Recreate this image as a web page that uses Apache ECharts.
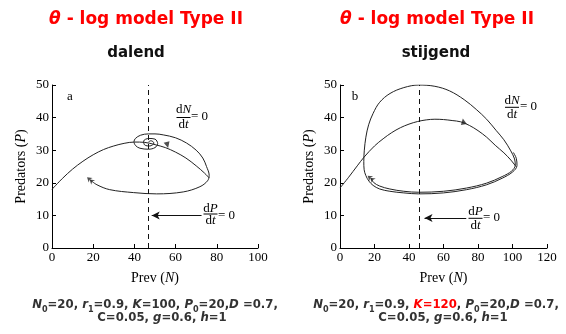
<!DOCTYPE html>
<html><head><meta charset="utf-8">
<script src="https://cdn.jsdelivr.net/npm/echarts@6/dist/echarts.min.js"></script>
<style>html,body{margin:0;padding:0;background:#fff}#c{width:566px;height:334px}</style>
</head><body><div id="c"></div>
<script>
// ---------- data (Prey N, Predators P) ----------
const titles = ['θ', ' - log model Type II'];
const subtitles = ['dalend', 'stijgend'];
const xMaxes = [100, 120];
const yMax = 50;
const predNullclineN = [46.8, 46.1];          // dP/dt = 0 (vertical dashed)
const preyNullclineA = [[0,18],[5,21.3],[10,24.2],[15,26.6],[20,28.6],[25,30.2],[30,31.3],[35,32.1],[40,32.5],[45,32.4],[50,31.7],[55,30.8],[60,29.4],[65,27.6],[70,25.2],[74,23],[76.3,21.5]];
const trajectoryA = [[18.5,20.9],[21.8,19.4],[28,17.9],[39.5,17],[50.8,16.6],[63.7,17.2],[71.8,18.8],[75.5,20.6],[76.3,22.3],[75,25],[73.2,27.6],[70,30],[65.3,32.2],[60,33.8],[54,34.7],[50,35],[46.8,35],[43,34.6],[40.5,33.6],[39.8,32.6],[40.6,31.4],[42.7,30.6],[46.8,30.3],[50,30.8],[51.3,32],[50,33.4],[47,33.6],[44.5,32.8],[45,31.6],[47.5,31.3],[49.5,32.2],[48,32.9],[46.8,32.5]];
const preyNullclineB = [[0,18.4],[5,21.7],[10,25.2],[14,27.9],[20,31.3],[25,33.5],[30,35.4],[35,36.9],[40,38],[45,38.8],[50,39.3],[55,39.5],[60,39.4],[65,39.1],[70,38.7],[75,37.6],[80,36],[85,34],[90,31.5],[95,29.2],[99,27],[102,25]];
const trajectoryB = [[18,21.4],[19.5,20.1],[23,19],[28.9,18.1],[37,17.4],[45.7,17.1],[60,17.4],[73.4,18.4],[85,19.9],[94,21.9],[99.5,23.6],[101.6,25.4],[101.2,27.3],[99,29.8],[95,33.2],[90.6,36],[85,39.5],[79,42.5],[72,45.5],[63.5,48.2],[55,49.6],[45.7,50],[37,49.2],[29,47.4],[23,44.7],[19.2,41.3],[16.6,37.8],[15,34],[14.1,30],[13.8,26.5],[14,24],[15,22.2],[16.8,20.5],[19.2,19.2],[23,18.1],[28.9,17.4],[37,16.9],[45.7,16.6],[60,16.9],[73.4,17.9],[85,19.4],[94,21.4],[100,23.3],[102.6,25.3],[102.2,27.5],[100.5,29.3]];
const dirArrowA = [[56,31.6]];
const startArrowA = [[18.5,20.9]];
const dirArrowB = [[71.5,38.8]];
const startArrowB = [[17.8,21.4]];
const dPArrowA = [[72.6,10],[48.4,10]];
const dPArrowB = [[73.2,9.2],[49,9.2]];

// ---------- styles ----------
const SERIF = '"Liberation Serif","DejaVu Serif",serif';
const SANS = '"DejaVu Sans",sans-serif';
const SANSC = '"DejaVu Sans Condensed","DejaVu Sans",sans-serif';
const INK = '#222';

const chart = echarts.init(document.getElementById('c'), null, {renderer:'canvas'});

function axisX(i){
  return {type:'value', gridIndex:i, min:0, max:xMaxes[i], interval:20,
    name:'{r|Prev (}{i|N}{r|)}', nameLocation:'middle', nameGap:23,
    nameTextStyle:{rich:{r:{fontFamily:SERIF,fontSize:14,color:'#000'},i:{fontFamily:SERIF,fontSize:14,fontStyle:'italic',color:'#000'}}},
    axisLine:{lineStyle:{color:'#000',width:1}},
    axisTick:{inside:true,length:4,lineStyle:{color:'#000'}},
    axisLabel:{fontFamily:SERIF,fontSize:13,color:'#000',margin:3},
    splitLine:{show:false}};
}
function axisY(i){
  return {type:'value', gridIndex:i, min:0, max:yMax, interval:10,
    name:'{r|Predators (}{i|P}{r|)}', nameLocation:'middle', nameGap:24, nameRotate:90,
    nameTextStyle:{rich:{r:{fontFamily:SERIF,fontSize:14,color:'#000'},i:{fontFamily:SERIF,fontSize:14,fontStyle:'italic',color:'#000'}}},
    axisLine:{show:true,lineStyle:{color:'#000',width:1}},
    axisTick:{show:true,inside:true,length:4,lineStyle:{color:'#000'}},
    axisLabel:{fontFamily:SERIF,fontSize:13,color:'#000',margin:3},
    splitLine:{show:false}};
}
function curve(i, data){
  return {type:'line', xAxisIndex:i, yAxisIndex:i, data:data, smooth:0.35, showSymbol:false, symbol:'none',
    lineStyle:{color:INK,width:1}, silent:true, animation:false, z:3};
}
function dashed(i, n){
  return {type:'line', xAxisIndex:i, yAxisIndex:i, data:[], silent:true, animation:false,
    markLine:{silent:true, symbol:['none','none'], label:{show:false}, animation:false,
      lineStyle:{color:'#111',type:[5,4],width:1},
      data:[[{coord:[n,0]},{coord:[n,yMax]}]]}};
}
function arrowLine(i, pts){
  return {type:'line', xAxisIndex:i, yAxisIndex:i, data:[], silent:true, animation:false,
    markLine:{silent:true, symbol:['none','arrow'], symbolSize:[6,8], label:{show:false}, animation:false,
      lineStyle:{color:'#111',type:'solid',width:1},
      data:[[{coord:pts[0]},{coord:pts[1]}]]}};
}
function marker(i, data, sym, size, rot){
  return {type:'scatter', xAxisIndex:i, yAxisIndex:i, data:data, symbol:sym, symbolSize:size, symbolRotate:rot,
    itemStyle:{color:INK}, silent:true, animation:false, z:4};
}
const dbl = 'path://M5,0 L10,7 L5,5 L0,7 Z M5,5 L10,12 L5,10 L0,12 Z';

const fracRich = {r:{fontFamily:SERIF,fontSize:13,fill:'#000'},i:{fontFamily:SERIF,fontSize:13,fontStyle:'italic',fill:'#000'}};
function frac(cx, cyTop, top, bot, barY, eqX, eqY){
  return [
    {type:'text', style:{text:top, x:cx, y:cyTop, align:'center', verticalAlign:'middle', rich:fracRich}},
    {type:'line', shape:{x1:cx-7, y1:barY, x2:cx+7, y2:barY}, style:{stroke:'#000', lineWidth:1}},
    {type:'text', style:{text:bot, x:cx, y:barY+7, align:'center', verticalAlign:'middle', rich:fracRich}},
    {type:'text', style:{text:'= 0', x:eqX, y:eqY, align:'left', verticalAlign:'middle', fontFamily:SERIF, fontSize:13, fill:'#000'}}
  ];
}

const GREY = '#333';
const paramRich = {
  b:{fontFamily:SANSC,fontSize:13,fontWeight:'bold',fill:GREY,lineHeight:18},
  i:{fontFamily:SANSC,fontSize:13,fontWeight:'bold',fontStyle:'italic',fill:GREY,lineHeight:18},
  s:{fontFamily:SANSC,fontSize:9,fontWeight:'bold',fill:GREY,lineHeight:10,verticalAlign:'bottom'},
  rb:{fontFamily:SANSC,fontSize:13,fontWeight:'bold',fill:'#f00',lineHeight:18},
  ri:{fontFamily:SANSC,fontSize:13,fontWeight:'bold',fontStyle:'italic',fill:'#f00',lineHeight:18}
};
const titleRich = {
  t:{fontFamily:SANS,fontSize:17,fontWeight:'bold',fontStyle:'italic',fill:'#f00'},
  b:{fontFamily:SANS,fontSize:17,fontWeight:'bold',fill:'#f00'}
};

const graphics = [
  {type:'text', style:{text:'{t|'+titles[0]+'}{b|'+titles[1]+'}', rich:titleRich, x:146, y:20, align:'center', verticalAlign:'middle'}},
  {type:'text', style:{text:'{t|'+titles[0]+'}{b|'+titles[1]+'}', rich:titleRich, x:437, y:20, align:'center', verticalAlign:'middle'}},
  {type:'text', style:{text:subtitles[0], x:136, y:53, align:'center', verticalAlign:'middle', fontFamily:SANS, fontSize:15, fontWeight:'bold', fill:'#111'}},
  {type:'text', style:{text:subtitles[1], x:436, y:53, align:'center', verticalAlign:'middle', fontFamily:SANS, fontSize:15, fontWeight:'bold', fill:'#111'}},
  {type:'text', style:{text:'a', x:70, y:97, align:'center', verticalAlign:'middle', fontFamily:SERIF, fontSize:13, fill:'#000'}},
  {type:'text', style:{text:'b', x:355, y:97, align:'center', verticalAlign:'middle', fontFamily:SERIF, fontSize:13, fill:'#000'}},
  {type:'text', style:{text:'{i|N}{s|0}{b|=20, }{i|r}{s|1}{b|=0.9, }{i|K}{b|=100, }{i|P}{s|0}{b|=20,}{i|D}{b| =0.7,}', rich:paramRich, x:155, y:305, align:'center', verticalAlign:'middle'}},
  {type:'text', style:{text:'{b|C=0.05, }{i|g}{b|=0.6, }{i|h}{b|=1}', rich:paramRich, x:162, y:318, align:'center', verticalAlign:'middle'}},
  {type:'text', style:{text:'{i|N}{s|0}{b|=20, }{i|r}{s|1}{b|=0.9, }{ri|K}{rb|=120}{b|, }{i|P}{s|0}{b|=20,}{i|D}{b| =0.7,}', rich:paramRich, x:436, y:305, align:'center', verticalAlign:'middle'}},
  {type:'text', style:{text:'{b|C=0.05, }{i|g}{b|=0.6, }{i|h}{b|=1}', rich:paramRich, x:443, y:318, align:'center', verticalAlign:'middle'}}
].concat(
  frac(183.5, 110, '{r|d}{i|N}', '{r|d}{i|t}', 117.5, 191, 117),
  frac(210.5, 208.5, '{r|d}{i|P}', '{r|d}{i|t}', 214, 218, 216),
  frac(512, 100.5, '{r|d}{i|N}', '{r|d}{i|t}', 107.3, 520, 107),
  frac(475.5, 211.5, '{r|d}{i|P}', '{r|d}{i|t}', 218.3, 483, 218)
);

chart.setOption({
  animation:false,
  backgroundColor:'#fff',
  grid:[{left:52,right:308,top:85,bottom:86},{left:340,right:19,top:85,bottom:86}],
  xAxis:[axisX(0),axisX(1)],
  yAxis:[axisY(0),axisY(1)],
  series:[
    curve(0, preyNullclineA), curve(0, trajectoryA), dashed(0, predNullclineN[0]), arrowLine(0, dPArrowA),
    marker(0, dirArrowA, 'triangle', 6, 195), marker(0, startArrowA, dbl, [6,8], 50),
    curve(1, preyNullclineB), curve(1, trajectoryB), dashed(1, predNullclineN[1]), arrowLine(1, dPArrowB),
    marker(1, dirArrowB, 'triangle', 6, 10), marker(1, startArrowB, dbl, [6,8], 50)
  ],
  graphic:graphics
});
</script></body></html>
